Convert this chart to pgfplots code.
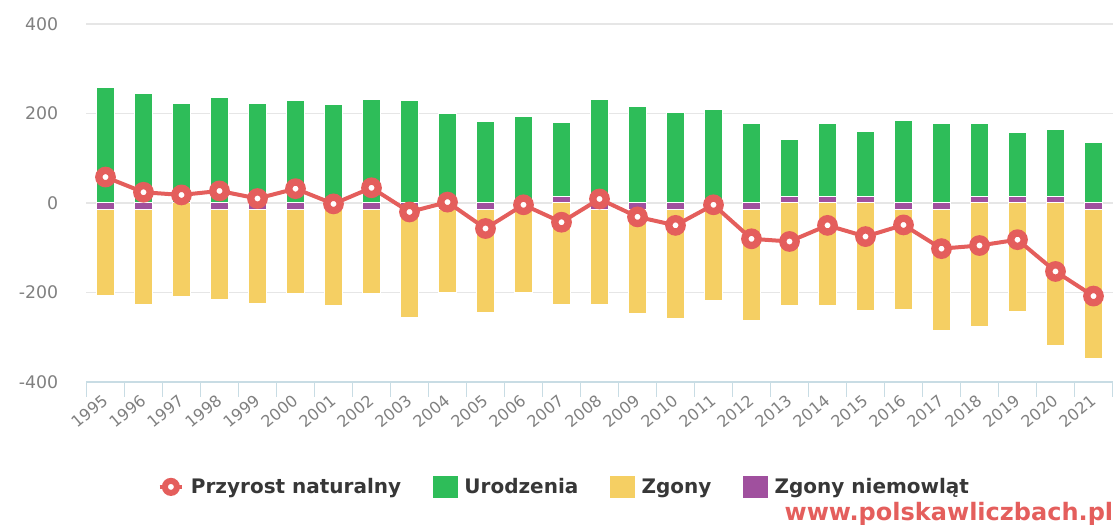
\documentclass[border=0pt]{standalone}
\usepackage{pgfplots}
\pgfplotsset{compat=1.18}
\usepackage{pgfplotstable}
\usepackage{fontspec}
\setmainfont{DejaVu Sans}
\definecolor{cgreen}{RGB}{46,189,89}
\definecolor{cyellow}{RGB}{245,207,99}
\definecolor{cpurple}{RGB}{160,80,158}
\definecolor{cred}{RGB}{228,94,92}
\definecolor{cgrid}{RGB}{230,230,230}
\definecolor{caxis}{RGB}{200,220,228}
\definecolor{ctick}{RGB}{128,128,128}
\definecolor{clegend}{RGB}{55,55,55}

\pgfplotstableread{
year B D P N
1995 257 207 -14 58
1996 244 227 -14 24
1997 222 209 0 18
1998 236 216 -14 27
1999 222 224 -14 10
2000 229 203 -14 32
2001 220 228 -14 -2
2002 231 202 -14 34
2003 228 255 -14 -20
2004 200 200 -14 2
2005 182 244 -14 -57
2006 194 199 -14 -4
2007 181 227 14 -43
2008 231 227 -14 9
2009 215 248 -14 -31
2010 202 259 -14 -50
2011 209 219 -14 -4
2012 178 262 -14 -80
2013 142 230 14 -86
2014 177 230 14 -50
2015 160 240 14 -75
2016 184 237 -14 -49
2017 178 285 -14 -102
2018 177 276 14 -95
2019 157 243 14 -82
2020 164 318 14 -153
2021 136 348 -14 -208
}\datatable

\begin{document}
\begin{tikzpicture}
\useasboundingbox (0pt,0pt) rectangle (836.25pt,395.25pt);
\begin{axis}[
  at={(64.875pt,108.75pt)}, anchor=south west,
  scale only axis, width=769.5pt, height=268.5pt,
  xmin=1994.5, xmax=2021.5, ymin=-400, ymax=400,
  axis x line*=bottom, axis y line*=left,
  x axis line style={draw=caxis, line width=0.8pt, -},
  y axis line style={draw=none},
  ytick={-400,-200,0,200,400},
  yticklabels={-400,-200,0,200,400},
  ymajorgrids, grid style={cgrid, line width=0.8pt},
  major tick length=0pt,
  yticklabel style={anchor=east, inner sep=0pt, xshift=-21pt, text=ctick, font=\fontsize{13}{15}\selectfont},
  xtick={1995,1996,1997,1998,1999,2000,2001,2002,2003,2004,2005,2006,2007,2008,2009,2010,2011,2012,2013,2014,2015,2016,2017,2018,2019,2020,2021},
  xticklabels={1995,1996,1997,1998,1999,2000,2001,2002,2003,2004,2005,2006,2007,2008,2009,2010,2011,2012,2013,2014,2015,2016,2017,2018,2019,2020,2021},
  xticklabel style={yshift=-12pt, rotate=40, anchor=east, inner sep=0pt, text=ctick, font=\fontsize{12}{14}\selectfont},
  extra x ticks={1994.5,1995.5,1996.5,1997.5,1998.5,1999.5,2000.5,2001.5,2002.5,2003.5,2004.5,2005.5,2006.5,2007.5,2008.5,2009.5,2010.5,2011.5,2012.5,2013.5,2014.5,2015.5,2016.5,2017.5,2018.5,2019.5,2020.5,2021.5},
  extra x tick labels={},
  extra x tick style={major tick length=11pt, tick align=outside, tick style={draw=caxis, line width=0.8pt}, grid=none},
  legend columns=4,
  legend style={at={(0.466,-0.293)}, anchor=center, draw=none, fill=none,
    font=\bfseries\fontsize{15}{17}\selectfont, text=clegend,
    /tikz/every odd column/.append style={column sep=3pt},
    /tikz/every even column/.append style={column sep=22pt},
    cells={anchor=west}},
]
\addlegendimage{cred, line width=3pt, mark=*, mark size=4.5pt, mark options={fill=white, draw=cred, line width=4.5pt}}
\addlegendentry{Przyrost naturalny}
\addlegendimage{legend image code/.code={\fill[cgreen] (0pt,-8pt) rectangle (18pt,8pt);}}
\addlegendentry{Urodzenia}
\addlegendimage{legend image code/.code={\fill[cyellow] (0pt,-8pt) rectangle (18pt,8pt);}}
\addlegendentry{Zgony}
\addlegendimage{legend image code/.code={\fill[cpurple] (0pt,-8pt) rectangle (18pt,8pt);}}
\addlegendentry{Zgony niemowląt}

\addplot[forget plot, ybar, bar width=13.5pt, bar shift=0pt, fill=cgreen, draw=white, line width=0.75pt]
  table[x=year, y=B] {\datatable};
\addplot[forget plot, ybar, bar width=13.5pt, bar shift=0pt, fill=cyellow, draw=white, line width=0.75pt]
  table[x=year, y expr=-\thisrow{D}] {\datatable};
\addplot[forget plot, ybar, bar width=13.5pt, bar shift=0pt, fill=cpurple, draw=white, line width=0.75pt]
  table[x=year, y=P] {\datatable};
\addplot[forget plot, cred, line width=3pt, mark=*, mark size=5pt, mark options={fill=white, draw=cred, line width=5.5pt}]
  table[x=year, y=N] {\datatable};
\end{axis}
\node[anchor=east, inner sep=0pt, text=cred, font=\bfseries\fontsize{18}{20}\selectfont] at (835pt,9.5pt) {www.polskawliczbach.pl};
\end{tikzpicture}
\end{document}
